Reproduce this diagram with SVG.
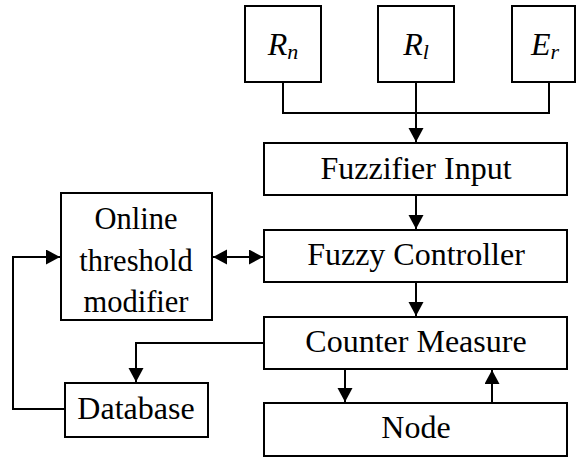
<svg xmlns="http://www.w3.org/2000/svg" width="579" height="457" viewBox="0 0 579 457">
<defs>
<style>
rect{fill:#fff;stroke:#000;stroke-width:2}
.c path{fill:none;stroke:#000;stroke-width:2}
text{font-family:'Times New Roman','Liberation Serif',serif;font-size:32px;text-anchor:middle;fill:#000}
.it{font-style:italic}
.sub{font-size:22px}
.ds{font-family:'DejaVu Serif',serif}
</style>
<marker id="ah" markerUnits="userSpaceOnUse" markerWidth="16" markerHeight="16" refX="14" refY="7.5" orient="auto-start-reverse">
<path d="M0,0 L14,7.5 L0,15 z" fill="#000"/>
</marker>
</defs>
<g id="Rn"><rect x="245" y="6" width="76" height="76"/><text class="it" x="283" y="55">R<tspan class="sub" dy="4">n</tspan></text></g>
<g id="Rl"><rect x="378" y="6" width="76" height="76"/><text class="it" x="416" y="55">R<tspan class="sub" dy="4">l</tspan></text></g>
<g id="Er"><rect x="512" y="6" width="63" height="76"/><text class="it" x="545" y="55">E<tspan class="sub" dy="4">r</tspan></text></g>
<g id="fuzzifier"><rect x="264" y="143" width="303" height="52"/><text x="416" y="179">Fuzzifier Input</text></g>
<g id="controller"><rect x="264" y="230" width="303" height="52"/><text x="416" y="265">Fuzzy Controller</text></g>
<g id="counter"><rect x="264" y="317" width="303" height="52"/><text x="416" y="352">Counter Measure</text></g>
<g id="node"><rect x="264" y="403" width="303" height="53"/><text x="416" y="438">Node</text></g>
<g id="online"><rect x="61" y="193" width="151" height="127"/><text x="136" y="229" style="font-size:30.5px">Online</text><text x="136" y="271" style="font-size:30.5px">threshold</text><text x="136" y="312" style="font-size:30.5px">modifier</text></g>
<g id="database"><rect x="65" y="383" width="143" height="54"/><text x="136" y="419">Database</text></g>
<g class="c" id="connectors">
<path d="M283,82 V113 H549 V82"/>
<path d="M416,82 V142" marker-end="url(#ah)"/>
<path d="M416,195 V229" marker-end="url(#ah)"/>
<path d="M416,282 V316" marker-end="url(#ah)"/>
<path d="M345,369 V402" marker-end="url(#ah)"/>
<path d="M492,403 V370" marker-end="url(#ah)"/>
<path d="M213,257 H263" marker-start="url(#ah)" marker-end="url(#ah)"/>
<path d="M264,343 H136 V382" marker-end="url(#ah)"/>
<path d="M65,409 H13 V257 H60" marker-end="url(#ah)"/>
</g>
</svg>
